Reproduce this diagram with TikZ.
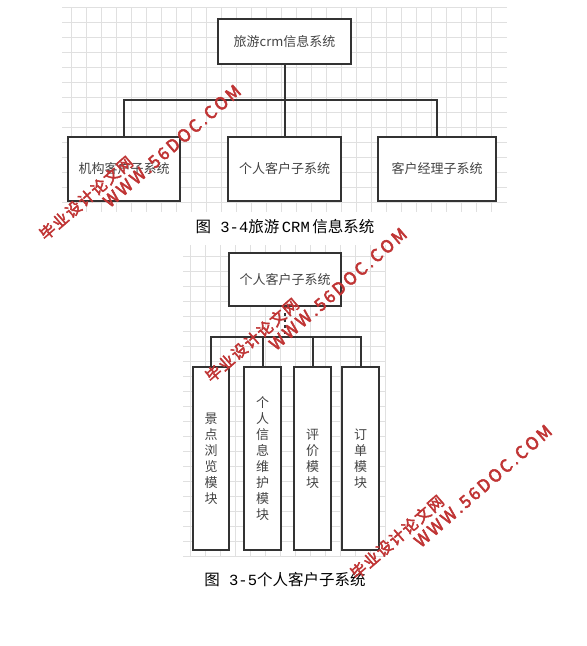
\documentclass[tikz,border=0pt]{standalone}
\usepackage{fontspec}
\setmainfont{Noto Sans CJK SC}
\newfontfamily\latmono{Liberation Mono}
\newfontfamily\wmfont[FakeBold=3]{Noto Sans CJK SC}
\definecolor{boxline}{HTML}{333333}
\definecolor{boxtext}{HTML}{444444}
\definecolor{gridcol}{HTML}{E0E0E0}
\definecolor{wmred}{RGB}{192,52,52}
\tikzset{
  gridline/.style={draw=gridcol, line width=0.8pt},
  sysbox/.style={draw=boxline, line width=2pt, fill=white, text=boxtext, inner sep=0pt,
    font=\fontsize{13}{16}\selectfont, align=center},
  link/.style={draw=boxline, line width=2pt},
  caption/.style={font=\fontsize{15.5}{18}\selectfont, text=black, inner sep=0pt},
  wmark/.style={text=wmred, rotate=41, inner sep=0pt}
}
\begin{document}
\begin{tikzpicture}[x=1pt,y=-1pt]
\useasboundingbox (0,0) rectangle (587,646);
\fill[white] (0,0) rectangle (587,646);
% grid 1
\foreach \x in {71.7,86.7,...,506} \draw[gridline] (\x,7) -- (\x,212);
\foreach \y in {7,22,...,211} \draw[gridline] (62,\y) -- (507,\y);
% grid 2
\foreach \x in {190,205,...,386} \draw[gridline] (\x,245) -- (\x,557);
\foreach \y in {256.7,271.7,...,557.5} \draw[gridline] (183,\y) -- (386,\y);

% diagram 1
\node[sysbox, minimum width=133pt, minimum height=45pt] (root) at (284.5,41.5) {旅游crm信息系统};
\node[sysbox, minimum width=112pt, minimum height=64pt] (b1) at (124,169) {机构客户子系统};
\node[sysbox, minimum width=113pt, minimum height=64pt] (b2) at (284.5,169) {个人客户子系统};
\node[sysbox, minimum width=118pt, minimum height=64pt] (b3) at (437,169) {客户经理子系统};
\coordinate (j1) at (284.5,100);
\draw[link] (root.south) -- (j1);
\draw[link] (j1) -- (b2.north);
\draw[link] (b1.north) |- (j1);
\draw[link] (b3.north) |- (j1);
\node[caption] (cap1) at (285,227) {图\hspace{0.6em}{\latmono 3-4}旅游\,{\latmono CRM}\,信息系统};

% diagram 2
\node[sysbox, minimum width=112pt, minimum height=53pt] (p) at (285,279.5) {个人客户子系统};
\node[sysbox, minimum width=36pt, minimum height=183pt] (m1) at (211,458.5) {景\\点\\浏\\览\\模\\块};
\node[sysbox, minimum width=37pt, minimum height=183pt] (m2) at (262.5,458.5) {个\\人\\信\\息\\维\\护\\模\\块};
\node[sysbox, minimum width=37pt, minimum height=183pt] (m3) at (312.5,458.5) {评\\价\\模\\块};
\node[sysbox, minimum width=37pt, minimum height=183pt] (m4) at (360.5,458.5) {订\\单\\模\\块};
\coordinate (j2) at (285,337);
\draw[link, dash pattern=on 3pt off 3pt] (p.south) -- (j2);
\draw[link] (m1.north) |- (j2);
\draw[link] (m2.north) |- (j2);
\draw[link] (m3.north) |- (j2);
\draw[link] (m4.north) |- (j2);
\node[caption] (cap2) at (285,580) {图\hspace{0.6em}{\latmono 3-5}个人客户子系统};

% watermarks
\foreach \cx/\cy/\dx/\dy [count=\i] in {172/146/86/198, 338/289/252/340, 483/486/397/537} {
  \node[wmark, font=\wmfont\fontsize{17}{17}\selectfont] (wa\i) at (\cx,\cy)
    {W\kern2.5pt W\kern2.5pt W\kern2.5pt .\kern2.5pt 5\kern2.5pt 6\kern2.5pt D\kern2.5pt O\kern2.5pt C\kern2.5pt .\kern2.5pt C\kern2.5pt O\kern2.5pt M};
  \node[wmark, font=\wmfont\fontsize{15.5}{15.5}\selectfont] (wb\i) at (\dx,\dy)
    {毕\kern1.5pt 业\kern1.5pt 设\kern1.5pt 计\kern1.5pt 论\kern1.5pt 文\kern1.5pt 网};
}
\end{tikzpicture}
\end{document}
